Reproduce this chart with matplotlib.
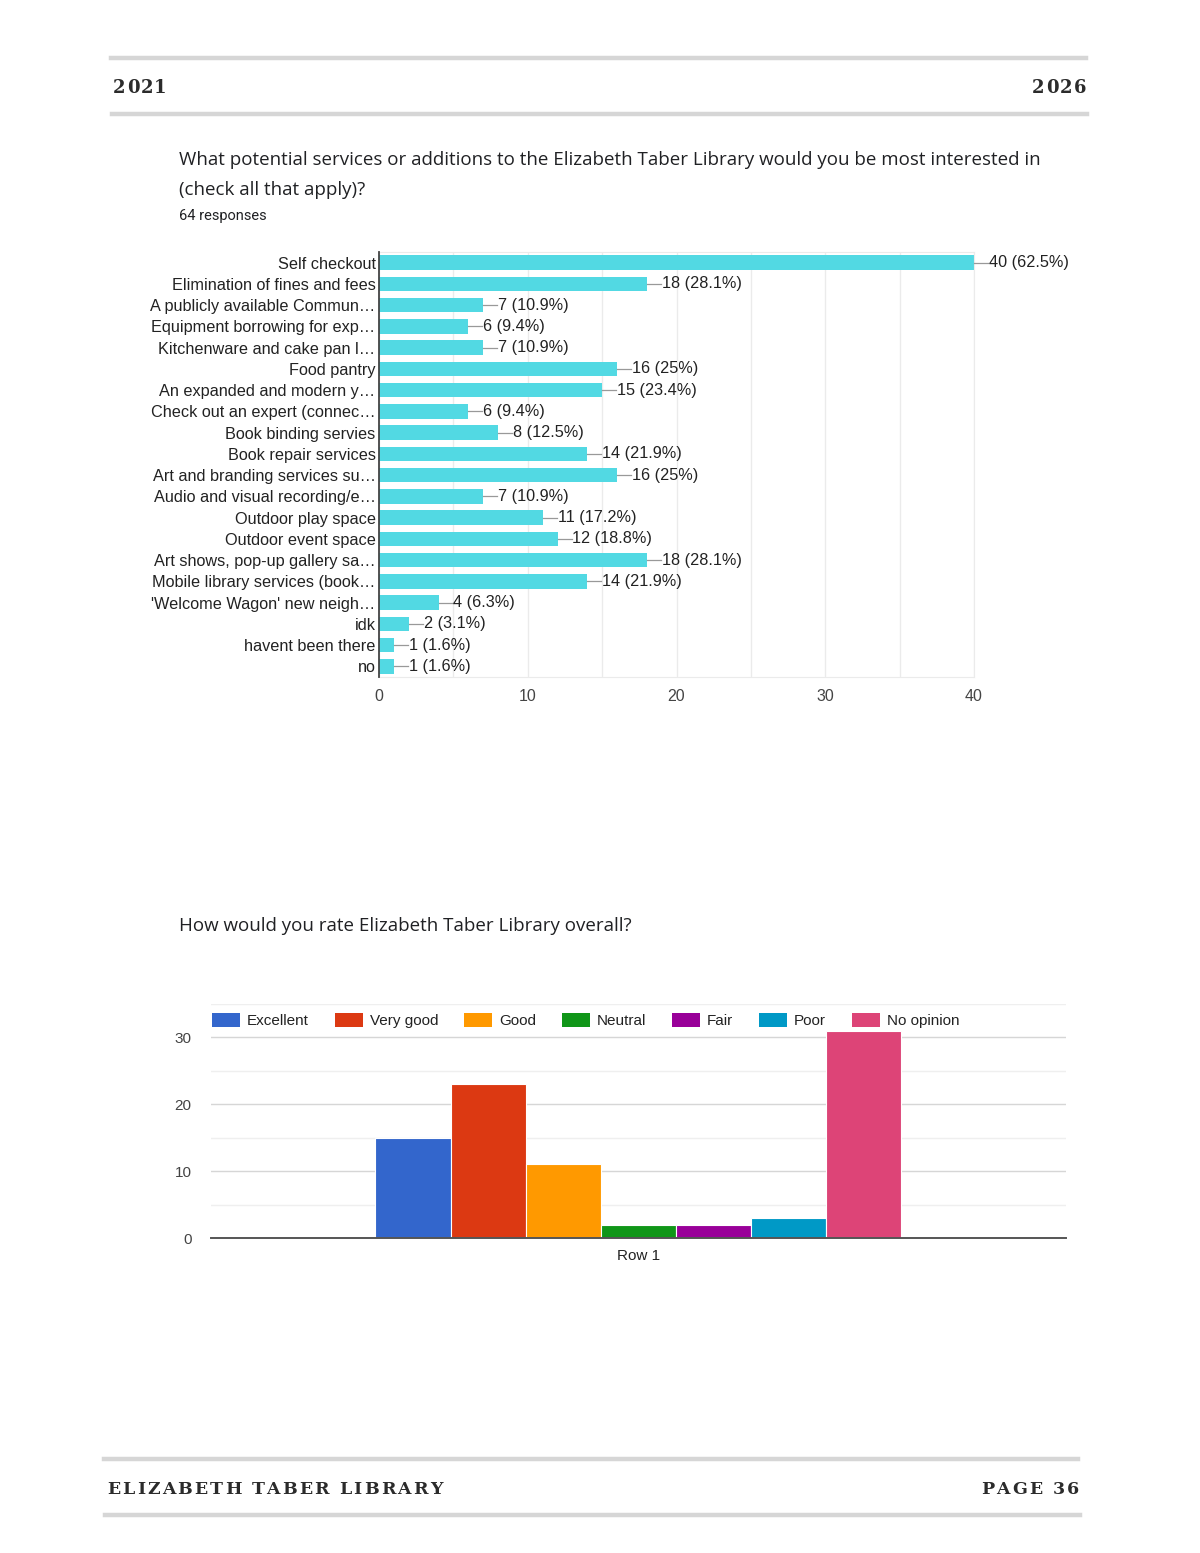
import matplotlib
matplotlib.use("Agg")
import matplotlib.pyplot as plt
from matplotlib.lines import Line2D
from matplotlib.patches import Patch

# --- data -------------------------------------------------------------
services = [
    "Self checkout",
    "Elimination of fines and fees",
    "A publicly available Commun\u2026",
    "Equipment borrowing for exp\u2026",
    "Kitchenware and cake pan l\u2026",
    "Food pantry",
    "An expanded and modern y\u2026",
    "Check out an expert (connec\u2026",
    "Book binding servies",
    "Book repair services",
    "Art and branding services su\u2026",
    "Audio and visual recording/e\u2026",
    "Outdoor play space",
    "Outdoor event space",
    "Art shows, pop-up gallery sa\u2026",
    "Mobile library services (book\u2026",
    "'Welcome Wagon' new neigh\u2026",
    "idk",
    "havent been there",
    "no",
]
service_counts = [40, 18, 7, 6, 7, 16, 15, 6, 8, 14, 16, 7, 11, 12, 18, 14, 4, 2, 1, 1]
service_pcts = ["62.5%", "28.1%", "10.9%", "9.4%", "10.9%", "25%", "23.4%", "9.4%",
                "12.5%", "21.9%", "25%", "10.9%", "17.2%", "18.8%", "28.1%", "21.9%",
                "6.3%", "3.1%", "1.6%", "1.6%"]

ratings = ["Excellent", "Very good", "Good", "Neutral", "Fair", "Poor", "No opinion"]
rating_counts = [15, 23, 11, 2, 2, 3, 31]
rating_colors = ["#3366cc", "#dc3912", "#ff9900", "#109618", "#990099", "#0099c6", "#dd4477"]

BAR_COLOR = "#52d9e3"
TEXT = "#222222"
TICK = "#444444"
GRID = "#ebebeb"

plt.rcParams["font.family"] = ["Liberation Sans", "DejaVu Sans"]

fig = plt.figure(figsize=(12, 15.53), dpi=100)
W, H = 1200, 1553


def fx(px):
    return px / W


def fy(py):
    return 1 - py / H


def spaced(x, y, s, size, ha="left", track=3.0):
    """Draw letter-spaced serif text (px coords), char by char."""
    r = fig.canvas.get_renderer()
    items = []
    for ch in s:
        t = fig.text(0, 0, ch, fontsize=size, family="DejaVu Serif",
                     weight="bold", color="#2b2b2b", va="center")
        w = t.get_window_extent(r).width if ch != " " else size * 0.45
        items.append((t, w))
    total = sum(w for _, w in items) + track * (len(items) - 1)
    cur = x if ha == "left" else x - total
    for t, w in items:
        t.set_position((fx(cur), fy(y)))
        cur += w + track


# header / footer rules
for (x0, x1, y) in [(111, 1086, 58), (112, 1087, 114), (104, 1078, 1459), (105, 1080, 1515)]:
    fig.add_artist(Line2D([fx(x0), fx(x1)], [fy(y), fy(y)], color="#d6d6d6", lw=3.2))

spaced(113, 88, "2021", 13, track=1.2)
spaced(1086, 88, "2026", 13, ha="right", track=1.2)
spaced(107, 1489, "ELIZABETH TABER LIBRARY", 12.5, track=2.2)
spaced(1079, 1489, "PAGE 36", 12.5, ha="right", track=2.2)

# --- chart 1: horizontal bars -----------------------------------------
fig.text(fx(179), fy(160), "What potential services or additions to the Elizabeth Taber Library would you be most interested in",
         fontsize=13.5, family=["Open Sans", "DejaVu Sans"], color="#202124", va="center")
fig.text(fx(179), fy(190), "(check all that apply)?",
         fontsize=13.5, family=["Open Sans", "DejaVu Sans"], color="#202124", va="center")
fig.text(fx(179), fy(216), "64 responses", fontsize=10.5, family=["Roboto", "DejaVu Sans"],
         color="#202124", va="center")

ax1 = fig.add_axes([fx(379), fy(677), fx(974) - fx(379), fy(252) - fy(677)])
ypos = list(range(len(services)))
ax1.barh(ypos, service_counts, height=0.68, color=BAR_COLOR, zorder=2)
ax1.set_ylim(len(services) - 0.5, -0.5)
ax1.set_xlim(0, 40)
ax1.set_yticks(ypos)
ax1.set_yticklabels(services, fontsize=11.7, color=TEXT)
ax1.set_xticks([0, 10, 20, 30, 40])
ax1.set_xticklabels(["0", "10", "20", "30", "40"], fontsize=11.5, color=TICK)
ax1.set_xticks([5, 15, 25, 35], minor=True)
ax1.tick_params(axis="both", length=0, which="both")
ax1.tick_params(axis="y", pad=2.5)
ax1.tick_params(axis="x", pad=8.5)
ax1.grid(axis="x", which="both", color=GRID, lw=1, zorder=0)
for side in ["top", "bottom", "right"]:
    ax1.spines[side].set_color(GRID)
ax1.spines["left"].set_color("#444444")
ax1.spines["left"].set_linewidth(1.3)
ax1.spines["left"].set_zorder(3)

for y, v, p in zip(ypos, service_counts, service_pcts):
    ax1.plot([v, v + 0.95], [y, y], color="#999999", lw=0.9, clip_on=False, zorder=3)
    ax1.text(v + 1.0, y, f"{v} ({p})", fontsize=11.7, color=TEXT, va="center",
             ha="left", clip_on=False)

# --- chart 2: grouped column chart ------------------------------------
fig.text(fx(179), fy(926), "How would you rate Elizabeth Taber Library overall?",
         fontsize=13.5, family=["Open Sans", "DejaVu Sans"], color="#202124", va="center")

ax2 = fig.add_axes([fx(211), fy(1238), fx(1066) - fx(211), fy(1004) - fy(1238)])
bw = (902 - 376) / 855 / len(ratings)
for i, (lab, v, c) in enumerate(zip(ratings, rating_counts, rating_colors)):
    ax2.bar((i - (len(ratings) - 1) / 2) * bw, v, width=bw, color=c, edgecolor="white",
            linewidth=0.8, label=lab, zorder=2)
ax2.set_xlim(-0.5, 0.5)
ax2.set_ylim(0, 35)
ax2.set_yticks([0, 10, 20, 30])
ax2.set_yticklabels(["0", "10", "20", "30"], fontsize=11, color=TICK)
ax2.set_yticks([5, 15, 25, 35], minor=True)
ax2.set_xticks([0])
ax2.set_xticklabels(["Row 1"], fontsize=11, color=TEXT)
ax2.tick_params(axis="both", which="both", length=0)
ax2.tick_params(axis="y", pad=14)
ax2.tick_params(axis="x", pad=8)
ax2.grid(axis="y", which="major", color="#d6d6d6", lw=1, zorder=0)
ax2.grid(axis="y", which="minor", color="#efefef", lw=1, zorder=0)
for side in ["top", "right", "left"]:
    ax2.spines[side].set_visible(False)
ax2.spines["bottom"].set_color("#555555")
ax2.spines["bottom"].set_linewidth(1.4)
ax2.spines["bottom"].set_zorder(3)

handles = [Patch(facecolor=c, label=l) for l, c in zip(ratings, rating_colors)]
ax2.legend(handles=handles, ncol=7, loc="upper left", bbox_to_anchor=(0.001, 0.96),
           frameon=False, fontsize=11, handlelength=1.85, handleheight=0.95,
           handletextpad=0.45, columnspacing=1.68, borderaxespad=0, borderpad=0,
           labelcolor=TEXT)

fig.savefig("out.png", dpi=100, facecolor="white")
